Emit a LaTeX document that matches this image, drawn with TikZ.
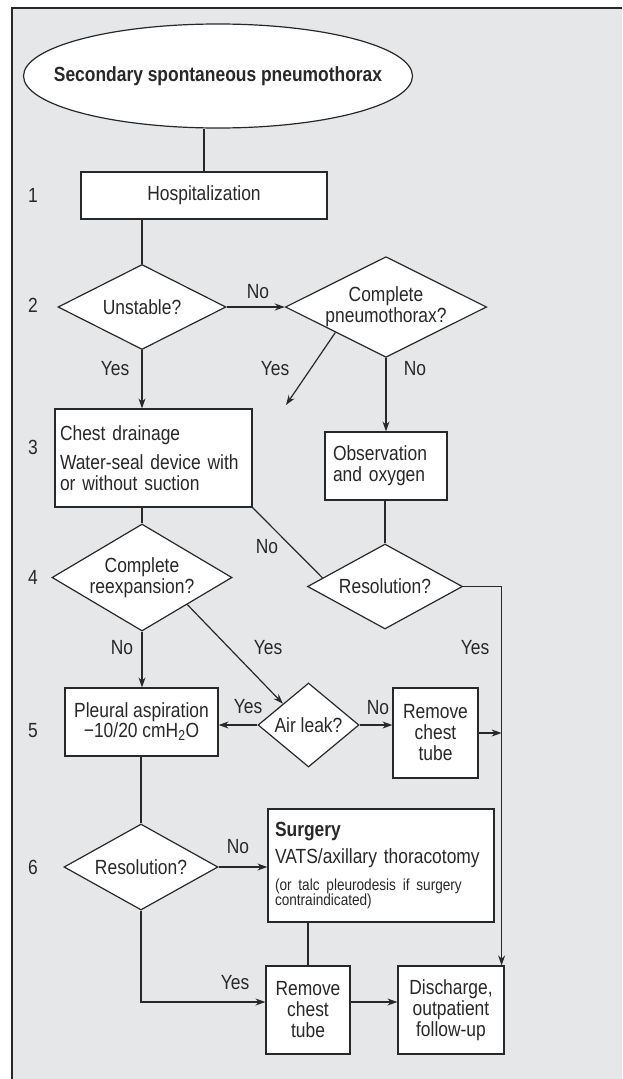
\documentclass[tikz,border=0pt]{standalone}
\usepackage{fontspec}
\setmainfont{Liberation Sans}[FakeStretch=0.85]
\usetikzlibrary{shapes.geometric,arrows.meta,calc}

\definecolor{panelgray}{RGB}{230,231,233}
\definecolor{inkgray}{RGB}{40,40,40}
\newcommand{\notesize}{\fontsize{16}{15}\selectfont}

\begin{document}
\begin{tikzpicture}[x=1pt,y=-1pt,
  every node/.style={font=\fontsize{20.5}{21}\selectfont, text=inkgray},
  link/.style={draw=inkgray, line width=1.2pt},
  arr/.style={link, -{Stealth[length=10pt,width=7pt]}},
  box/.style={rectangle, draw=inkgray, line width=1.2pt, fill=white, inner sep=0pt},
  decision/.style={diamond, draw=inkgray, line width=1.2pt, fill=white, inner sep=0pt, align=center},
  title/.style={ellipse, draw=inkgray, line width=1.2pt, fill=white, inner xsep=-32pt, inner ysep=0pt,
    minimum width=389pt, minimum height=104pt}]
\useasboundingbox (0,0) rectangle (622,1079);
\fill[panelgray] (12,8) rectangle (622,1079);
\draw[inkgray, line width=1.4pt] (12,1079) -- (12,8) -- (622,8);

% nodes
\node[title] (title) at (218,76) {\bfseries Secondary spontaneous pneumothorax};
\node[box, minimum width=246pt, minimum height=47pt] (hosp) at (204,195.5) {Hospitalization};
\node[decision, minimum width=168pt, minimum height=85pt, shape aspect=2] (unstable) at (142,307) {Unstable?};
\node[decision, minimum width=193pt, minimum height=97pt, shape aspect=2] (pneumo) at (386,307) {Complete\\pneumothorax?};
\node[box, minimum width=197pt, minimum height=98pt, text width=187pt, inner xsep=5pt, align=left] (drain) at (153.5,458)
  {Chest drainage\par\vspace{8pt}Water-seal device with\\or without suction};
\node[box, minimum width=122pt, minimum height=68pt, text width=106pt, inner xsep=8pt, align=left] (observe) at (386,466)
  {Observation\\and oxygen};
\node[decision, minimum width=180pt, minimum height=107pt, shape aspect=1.7] (reexp) at (142,577.5) {Complete\\reexpansion?};
\node[decision, minimum width=155pt, minimum height=85pt, shape aspect=1.8] (resolve) at (385,586.5) {Resolution?};
\node[box, minimum width=153pt, minimum height=68pt, align=center] (aspirate) at (141.5,722)
  {Pleural aspiration\\[-1pt]−10/20 cmH\textsubscript{2}O};
\node[decision, minimum width=101pt, minimum height=84pt, shape aspect=1.2] (leak) at (308.5,725) {Air leak?};
\node[box, minimum width=85pt, minimum height=90pt, align=center] (removeA) at (435.5,733) {Remove\\chest\\tube};
\node[decision, minimum width=154pt, minimum height=86pt, shape aspect=1.8] (resolveB) at (141,867) {Resolution?};
\node[box, minimum width=226pt, minimum height=113pt, text width=212pt, inner xsep=7pt, align=left] (surgery) at (381,865.5)
  {{\bfseries Surgery}\par\vspace{6pt}VATS/axillary thoracotomy\par\vspace{11pt}{\notesize (or talc pleurodesis if surgery\\contraindicated)\par}};
\node[box, minimum width=84pt, minimum height=88pt, align=center] (removeB) at (308,1010) {Remove\\chest\\tube};
\node[box, minimum width=106pt, minimum height=88pt, align=center] (discharge) at (451,1010) {Discharge,\\outpatient\\follow-up};

% step numbers
\foreach \num/\ypos in {1/195,2/305,3/447,4/577,5/731,6/867}
  \node (step\num) at (33,\ypos) {\num};

% free ends
\coordinate (yesend) at (286,405);
\coordinate (rightrail) at ([xshift=-3pt]discharge.north east);

% connectors
\draw[link] (hosp.north) -- (hosp.north |- title.south);
\draw[link] (unstable.north |- hosp.south) -- (unstable.north);
\draw[arr] (unstable.east) -- (pneumo.west);
\draw[arr] (unstable.south) -- (unstable.south |- drain.north);
\draw[arr] (pneumo.south west) -- (yesend);
\draw[arr] (pneumo.south) -- (pneumo.south |- observe.north);
\draw[link] (reexp.north |- drain.south) -- (reexp.north);
\draw[link] (drain.south east) -- ($(resolve.west)!0.2!(resolve.north)$);
\draw[link] (resolve.north |- observe.south) -- (resolve.north);
\draw[arr] (resolve.east) -| (rightrail);
\draw[arr] (reexp.south) -- (reexp.south |- aspirate.north);
\draw[arr] (reexp.south east) -- (leak.north west);
\draw[arr] (leak.west) -- (leak.west -| aspirate.east);
\draw[arr] (leak.east) -- (leak.east -| removeA.west);
\draw[arr] (removeA.east) -- (removeA.east -| rightrail);
\draw[link] (resolveB.north |- aspirate.south) -- (resolveB.north);
\draw[arr] (resolveB.east) -- (resolveB.east -| surgery.west);
\draw[link] (removeB.north |- surgery.south) -- (removeB.north);
\draw[arr] (resolveB.south) |- ([yshift=8pt]removeB.west);
\draw[arr] ([yshift=8pt]removeB.east) -- ([yshift=8pt]discharge.west);

% branch labels
\node (noA) at (258,292) {No};
\node (yesA) at (115,369) {Yes};
\node (yesB) at (275,369) {Yes};
\node (noB) at (415,369) {No};
\node (noC) at (267,547) {No};
\node (yesC) at (475,648) {Yes};
\node (noD) at (122,648) {No};
\node (yesD) at (268,648) {Yes};
\node (yesE) at (248,707) {Yes};
\node (noE) at (378,708) {No};
\node (noF) at (238,847) {No};
\node (yesF) at (235,983) {Yes};
\end{tikzpicture}
\end{document}
